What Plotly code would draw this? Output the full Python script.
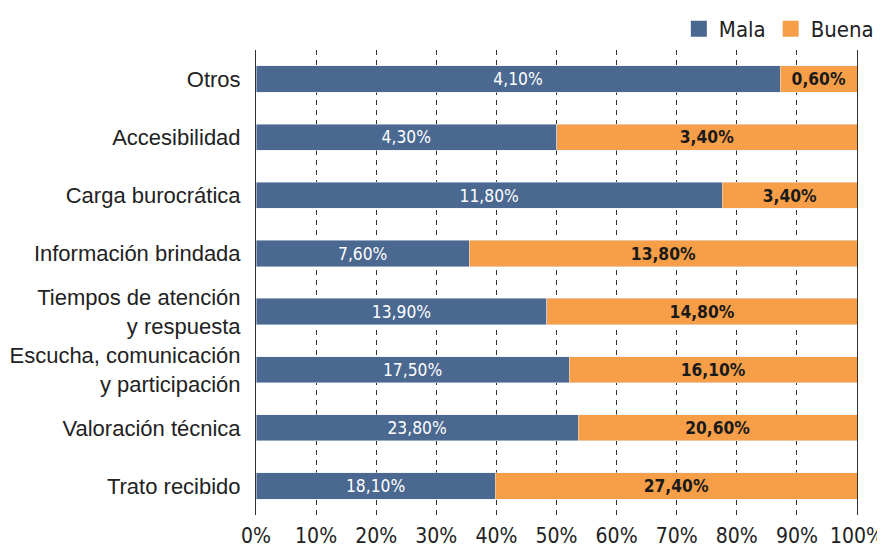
import plotly.graph_objects as go

categorias = ["Otros", "Accesibilidad", "Carga burocrática", "Información brindada",
              "Tiempos de atención<br>y respuesta", "Escucha, comunicación<br>y participación",
              "Valoración técnica", "Trato recibido"]

# Etiquetas publicadas (%)
etiquetas_mala = ["4,10%", "4,30%", "11,80%", "7,60%", "13,90%", "17,50%", "23,80%", "18,10%"]
etiquetas_buena = ["0,60%", "3,40%", "3,40%", "13,80%", "14,80%", "16,10%", "20,60%", "27,40%"]

# Longitud de barras (% del total)
largo_mala = [87.2, 50.0, 77.6, 35.5, 48.4, 52.1, 53.6, 39.8]
largo_buena = [12.8, 50.0, 22.4, 64.5, 51.6, 47.9, 46.4, 60.2]

ticks = [0, 10, 20, 30, 40, 50, 60, 70, 80, 90, 100]
tick_text = [f"{t}%" for t in ticks]

color_mala = "#4a6890"
color_buena = "#f79f48"
narrow = "DejaVu Sans Condensed, Liberation Sans Narrow, sans-serif"

fig = go.Figure()
fig.add_trace(go.Bar(
    name="Mala", y=categorias, x=largo_mala, orientation="h", showlegend=False,
    marker_color=color_mala, text=etiquetas_mala, textposition="inside",
    insidetextanchor="middle", textfont=dict(color="white", size=18, family=narrow),
))
fig.add_trace(go.Bar(
    name="Buena", y=categorias, x=largo_buena, orientation="h", showlegend=False,
    marker_color=color_buena, text=etiquetas_buena, textposition="inside",
    insidetextanchor="middle",
    textfont=dict(color="#1a1a1a", size=18, family=narrow, weight="bold"),
))

# leyenda con cuadros grandes
for nombre, color in [("Mala", color_mala), ("Buena", color_buena)]:
    fig.add_trace(go.Scatter(
        x=[None], y=[None], mode="markers", name=nombre,
        marker=dict(symbol="square", size=22, color=color),
    ))

# la página tiene 8px de margen en el body
fig.update_layout(
    barmode="stack",
    bargap=0.55,
    width=885, height=549,
    margin=dict(l=248, r=36, t=40, b=42),
    plot_bgcolor="white", paper_bgcolor="white",
    uniformtext=dict(mode="show", minsize=10),
    legend=dict(orientation="h", xref="container", yref="container",
                x=0.984, xanchor="right", y=1.0, yanchor="top",
                font=dict(size=22, family=narrow, color="#222222"),
                itemwidth=30, traceorder="normal"),
)
fig.update_xaxes(
    range=[0, 100], tickvals=ticks, ticktext=tick_text,
    tickfont=dict(size=21, family=narrow, color="#222222"),
    showgrid=True, gridcolor="#333333", griddash="5px,5px", gridwidth=1,
    zeroline=False, showline=False, automargin=False, ticklabelstandoff=6,
)
fig.update_yaxes(
    autorange="reversed", showline=True, mirror=True, linecolor="#333333", linewidth=1,
    tickfont=dict(size=22, family="Liberation Sans, Arial, sans-serif", color="#222222"),
    ticks="", ticklabelstandoff=10, automargin=False,
)

fig.write_html("out.html")
